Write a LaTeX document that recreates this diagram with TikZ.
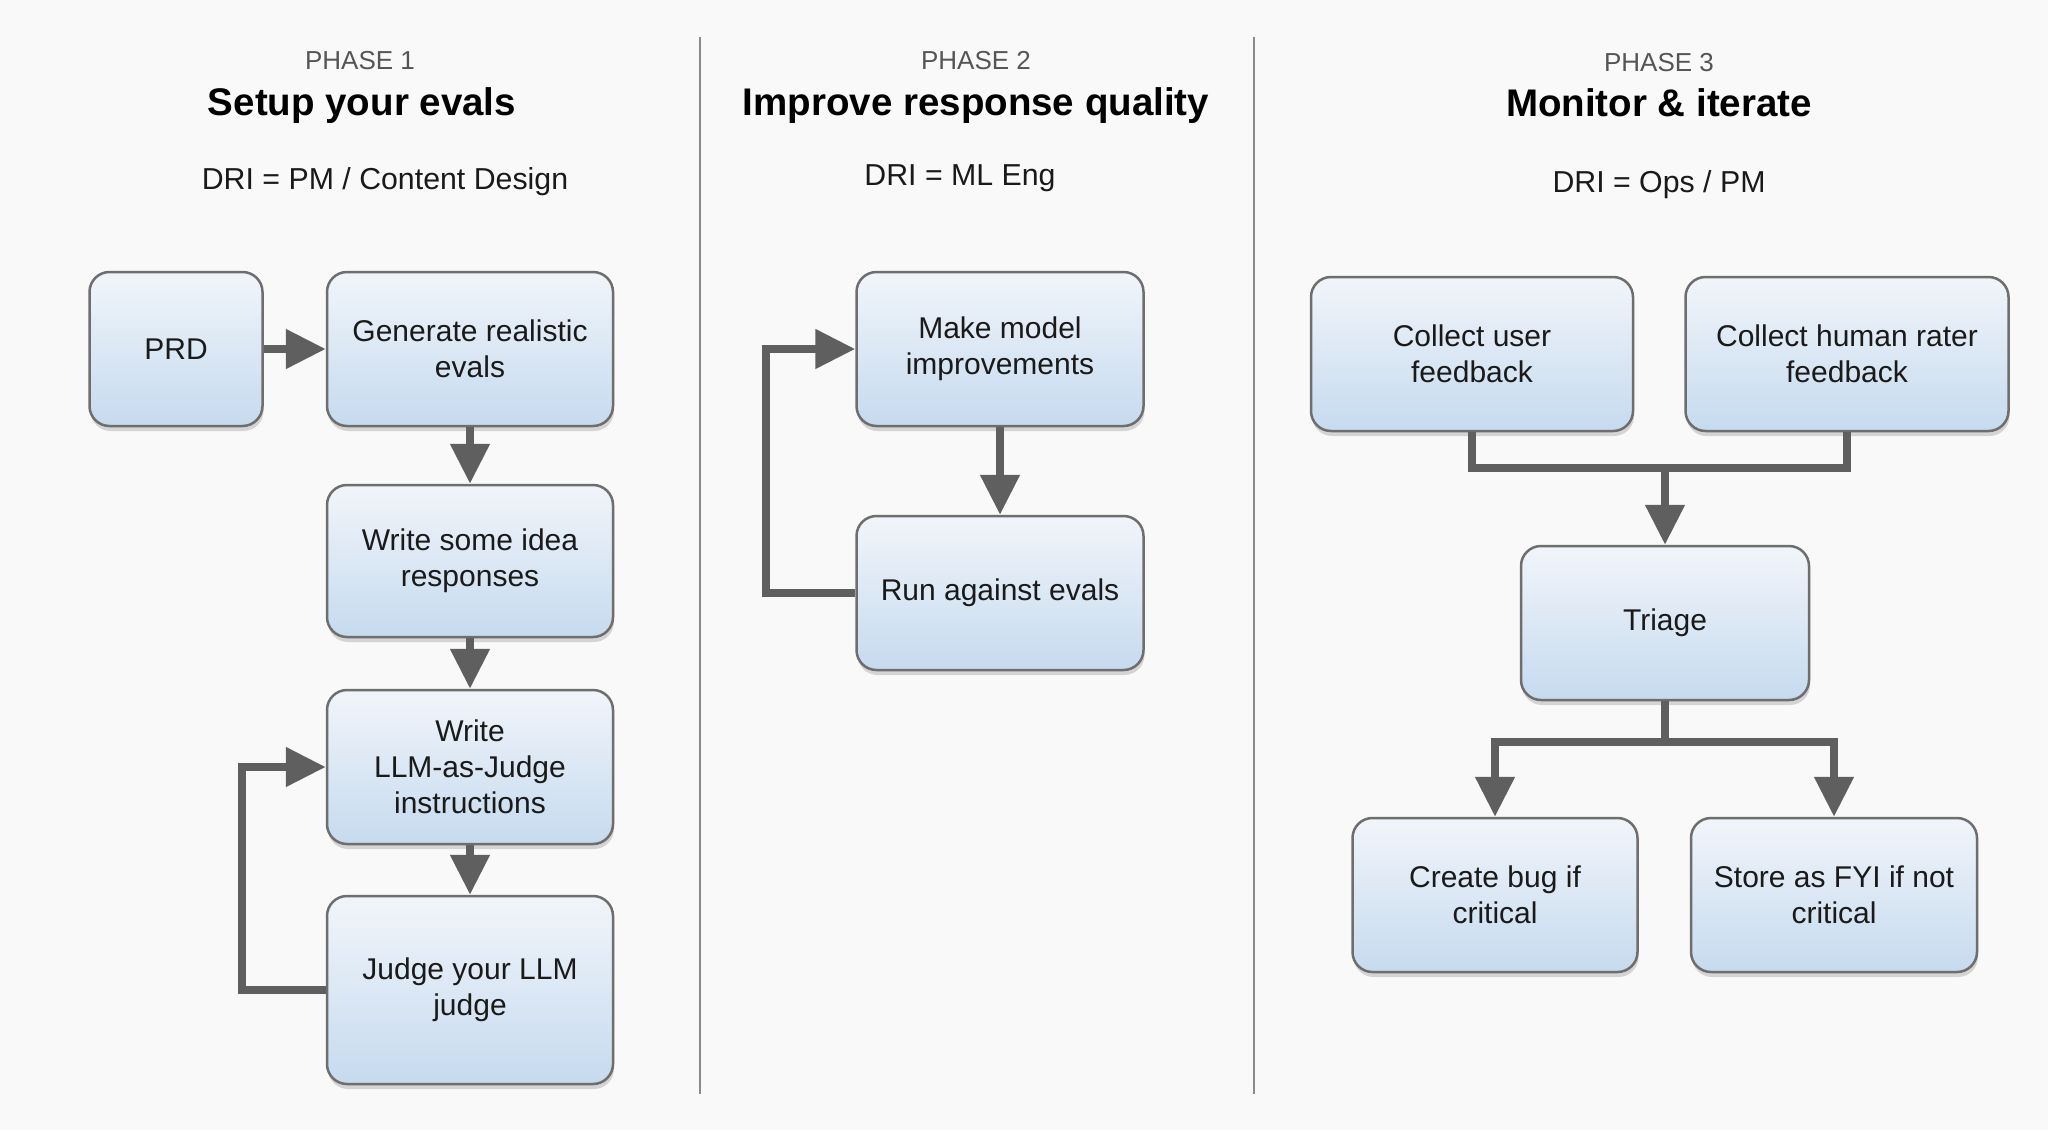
\documentclass[tikz,border=0pt]{standalone}
\usepackage{fontspec}
\setmainfont{Liberation Sans}
\usetikzlibrary{arrows.meta,shadows}
\definecolor{bgc}{HTML}{F9F9F9}
\definecolor{boxborder}{HTML}{6E6E6E}
\definecolor{boxtop}{HTML}{F1F5FA}
\definecolor{boxbot}{HTML}{C6DAEF}
\definecolor{conncol}{HTML}{5F5F5F}
\definecolor{txtcol}{HTML}{1A1A1A}
\definecolor{phasecol}{HTML}{555555}
\definecolor{divcol}{HTML}{8A8A8A}
\begin{document}
\begin{tikzpicture}[x=1pt,y=-1pt,
  box/.style={draw=boxborder, line width=2.5pt, rounded corners=20pt,
    top color=boxtop, bottom color=boxbot, align=center, inner sep=0pt,
    font=\fontsize{30}{36}\selectfont, text=txtcol, minimum height=154pt,
    drop shadow={shadow xshift=1pt, shadow yshift=-5pt, opacity=0.25, fill=black!60}},
  conn/.style={draw=conncol, line width=8pt, -{Triangle[length=40pt,width=38pt]}},
  connline/.style={draw=conncol, line width=8pt},
  phaselbl/.style={text=phasecol, font=\fontsize{26}{30}\selectfont},
  titlelbl/.style={text=black, font=\fontsize{38.5}{44}\selectfont\bfseries},
  drilbl/.style={text=txtcol, font=\fontsize{30.3}{35}\selectfont},
  divider/.style={draw=divcol, line width=1.6pt}]
\useasboundingbox (0,0) rectangle (2048,1130);
\fill[bgc] (0,0) rectangle (2048,1130);

% dividers
\draw[divider] (700,37) -- (700,1094);
\draw[divider] (1254,37) -- (1254,1094);

% headings
\node[phaselbl] (ph1) at (360,61) {PHASE 1};
\node[titlelbl] (t1) at (362,106) {Setup your evals};
\node[drilbl] (d1) at (385,182) {DRI = PM / Content Design};
\node[phaselbl] (ph2) at (976,61) {PHASE 2};
\node[titlelbl] (t2) at (976,106) {Improve response quality};
\node[drilbl] (d2) at (960,178) {DRI = ML Eng};
\node[phaselbl] (ph3) at (1659,63) {PHASE 3};
\node[titlelbl] (t3) at (1659,103) {Monitor \& iterate};
\node[drilbl] (d3) at (1659,185) {DRI = Ops / PM};

% phase 1
\node[box, minimum width=173pt] (prd) at (176,349) {PRD};
\node[box, minimum width=286pt] (gen) at (470,349) {Generate realistic\\evals};
\node[box, minimum width=286pt, minimum height=152pt] (idea) at (470,561) {Write some idea\\responses};
\node[box, minimum width=286pt] (llmj) at (470,767) {Write\\LLM-as-Judge\\instructions};
\node[box, minimum width=286pt, minimum height=188pt] (judge) at (470,990) {Judge your LLM\\judge};

\draw[conn] (prd.east) -- (gen.west);
\draw[conn] (gen.south) -- (idea.north);
\draw[conn] (idea.south) -- (llmj.north);
\draw[conn] (llmj.south) -- (judge.north);
\draw[conn] (judge.west) -- ++(-84,0) |- (llmj.west);

% phase 2
\node[box, minimum width=287pt] (make) at (1000,349) {Make model\\improvements};
\node[box, minimum width=287pt] (run) at (1000,593) {Run against evals};
\draw[conn] (make.south) -- (run.north);
\draw[conn] (run.west) -- ++(-89,0) |- (make.west);

% phase 3
\node[box, minimum width=322pt] (cuser) at (1472,354) {Collect user\\feedback};
\node[box, minimum width=323pt] (chuman) at (1847,354) {Collect human rater\\feedback};
\node[box, minimum width=288pt] (triage) at (1665,623) {Triage};
\node[box, minimum width=285pt] (bug) at (1495,895) {Create bug if\\critical};
\node[box, minimum width=286pt] (fyi) at (1834,895) {Store as FYI if not\\critical};

\coordinate (m1) at (1665,468);
\coordinate (s1) at (1665,742);
\draw[connline] (cuser.south) |- (m1) -| (chuman.south);
\draw[conn] (m1) -- (triage.north);
\draw[connline] (triage.south) -- (s1);
\draw[conn] (s1) -| (bug.north);
\draw[conn] (s1) -| (fyi.north);
\end{tikzpicture}
\end{document}
